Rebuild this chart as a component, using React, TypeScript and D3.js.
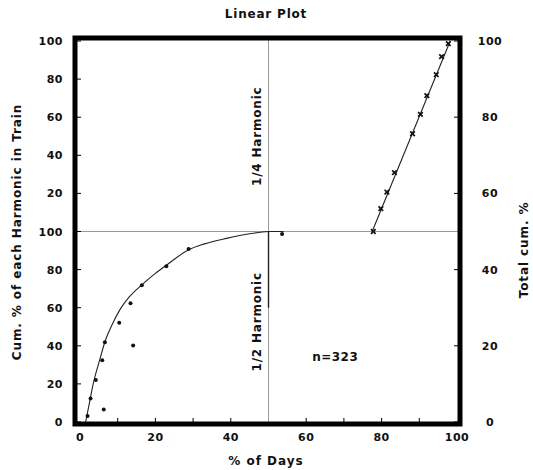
import * as d3 from 'd3';

// 1/2 harmonic: observed points (x = % of days, y = cum. % of harmonic)
const halfDays = [2.0, 2.8, 4.2, 5.9, 6.6, 6.3, 10.4, 13.4, 14.1, 16.4, 22.9, 28.8, 53.6];
const halfCum = [3.1, 12.4, 22.0, 32.4, 41.8, 6.5, 52.1, 62.3, 40.1, 71.8, 81.8, 90.8, 98.7];

// fitted curve through the 1/2 harmonic points
const halfCurveDays = [1.5, 2.5, 3.5, 5, 6.6, 8.5, 10.6, 13, 16.4, 20, 23, 28.7, 33, 38.9, 45, 50, 54];
const halfCurveCum = [0, 10, 20, 31, 42, 51, 59, 65.5, 72, 78, 82.4, 90.3, 93.5, 96.4, 98.8, 100, 100];

// 1/4 harmonic: observed points
const quarterDays = [77.8, 79.8, 81.4, 83.4, 88.2, 90.3, 92.0, 94.5, 95.9, 97.7];
const quarterCum = [0, 12.0, 20.7, 30.9, 51.3, 61.5, 71.3, 82.3, 91.8, 98.6];

// straight fit for 1/4 harmonic
const quarterLineDays = [77.5, 98.2];
const quarterLineCum = [0, 100];

const xTicks = [0, 20, 40, 60, 80, 100];
const xMinorTicks = [10, 20, 30, 40, 60, 70, 80, 90];
const leftLowerTicks = [0, 20, 40, 60, 80, 100];
const leftUpperTicks = [20, 40, 60, 80, 100];
const rightTicks = [0, 20, 40, 60, 80, 100];

const FONT = '"DejaVu Sans", sans-serif';

export default function App() {
  const width = 533;
  const height = 470;

  const x = d3.scaleLinear().domain([0, 100]).range([80, 457]);
  const yRight = d3.scaleLinear().domain([0, 100]).range([422, 41]);
  const yLower = d3.scaleLinear().domain([0, 100]).range([yRight(0), yRight(50)]);
  const yUpper = d3.scaleLinear().domain([0, 100]).range([yRight(50), yRight(100)]);

  const frame = { left: 75, right: 460, top: 38, bottom: 424 };

  const curve = d3
    .line<number>()
    .x((d) => x(halfCurveDays[d]))
    .y((d) => yLower(halfCurveCum[d]))
    .curve(d3.curveMonotoneX);

  const qLine = d3
    .line<number>()
    .x((d) => x(quarterLineDays[d]))
    .y((d) => yUpper(quarterLineCum[d]));

  const textStyle = { fontFamily: FONT, fontWeight: 700, fill: '#111' } as const;

  return (
    <svg
      width={width}
      height={height}
      style={{ position: 'absolute', left: 0, top: 0, background: '#fff' }}
    >
      {/* title */}
      <text x={266} y={18} textAnchor="middle" fontSize={12} letterSpacing={0.8} style={textStyle}>
        Linear  Plot
      </text>

      {/* reference lines */}
      <line
        x1={frame.left}
        x2={frame.right}
        y1={yRight(50)}
        y2={yRight(50)}
        stroke="#999"
        strokeWidth={1}
      />
      <line
        x1={x(50)}
        x2={x(50)}
        y1={frame.top}
        y2={frame.bottom}
        stroke="#999"
        strokeWidth={1}
      />
      <line
        x1={x(50)}
        x2={x(50)}
        y1={yLower(100)}
        y2={yLower(60)}
        stroke="#222"
        strokeWidth={1.4}
      />

      {/* 1/2 harmonic */}
      <path d={curve(d3.range(halfCurveDays.length)) || ''} fill="none" stroke="#222" strokeWidth={1.1} />
      {halfDays.map((d, i) => (
        <circle key={`h${i}`} cx={x(d)} cy={yLower(halfCum[i])} r={2} fill="#111" />
      ))}

      {/* 1/4 harmonic */}
      <path d={qLine([0, 1]) || ''} fill="none" stroke="#222" strokeWidth={1.1} />
      {quarterDays.map((d, i) => {
        const cx = x(d);
        const cy = yUpper(quarterCum[i]);
        const s = 2.3;
        return (
          <g key={`q${i}`} stroke="#111" strokeWidth={1.7}>
            <line x1={cx - s} y1={cy - s} x2={cx + s} y2={cy + s} />
            <line x1={cx - s} y1={cy + s} x2={cx + s} y2={cy - s} />
          </g>
        );
      })}

      {/* in-plot labels */}
      <text
        transform={`translate(261, ${yUpper(50)}) rotate(-90)`}
        textAnchor="middle"
        fontSize={12}
        letterSpacing={0.8}
        style={textStyle}
      >
        1/4 Harmonic
      </text>
      <text
        transform={`translate(261, ${yLower(52.6)}) rotate(-90)`}
        textAnchor="middle"
        fontSize={12}
        letterSpacing={0.8}
        style={textStyle}
      >
        1/2 Harmonic
      </text>
      <text x={x(67.7)} y={361} textAnchor="middle" fontSize={12} letterSpacing={0.5} style={textStyle}>
        n=323
      </text>

      {/* frame */}
      <rect
        x={frame.left}
        y={frame.top}
        width={frame.right - frame.left}
        height={frame.bottom - frame.top}
        fill="none"
        stroke="#000"
        strokeWidth={5}
      />

      {/* bottom axis */}
      {xMinorTicks.map((t) => (
        <line key={`xm${t}`} x1={x(t)} x2={x(t)} y1={frame.bottom} y2={frame.bottom - 6} stroke="#000" strokeWidth={1} />
      ))}
      {xTicks.map((t) => (
        <text key={`xt${t}`} x={x(t)} y={441} textAnchor="middle" fontSize={11} letterSpacing={0.5} style={textStyle}>
          {t}
        </text>
      ))}
      <text x={266} y={465} textAnchor="middle" fontSize={12} letterSpacing={1} style={textStyle}>
        % of  Days
      </text>

      {/* left axis */}
      {leftLowerTicks.map((t) => (
        <g key={`ll${t}`}>
          <line x1={frame.left} x2={frame.left + 6} y1={yLower(t)} y2={yLower(t)} stroke="#000" strokeWidth={1} />
          <text x={63} y={yLower(t) + 4} textAnchor="end" fontSize={11} letterSpacing={0.5} style={textStyle}>
            {t}
          </text>
        </g>
      ))}
      {leftUpperTicks.map((t) => (
        <g key={`lu${t}`}>
          <line x1={frame.left} x2={frame.left + 6} y1={yUpper(t)} y2={yUpper(t)} stroke="#000" strokeWidth={1} />
          <text x={63} y={yUpper(t) + 4} textAnchor="end" fontSize={11} letterSpacing={0.5} style={textStyle}>
            {t}
          </text>
        </g>
      ))}
      <text
        transform={`translate(21, 232) rotate(-90)`}
        textAnchor="middle"
        fontSize={12}
        letterSpacing={0.9}
        style={textStyle}
      >
        Cum. % of each Harmonic in Train
      </text>

      {/* right axis */}
      {rightTicks.map((t) => (
        <g key={`r${t}`}>
          <line x1={frame.right} x2={frame.right - 6} y1={yRight(t)} y2={yRight(t)} stroke="#000" strokeWidth={1} />
          <text x={490} y={yRight(t) + 4} textAnchor="middle" fontSize={11} letterSpacing={0.5} style={textStyle}>
            {t}
          </text>
        </g>
      ))}
      <text
        transform={`translate(528, 250) rotate(-90)`}
        textAnchor="middle"
        fontSize={12}
        letterSpacing={0.9}
        style={textStyle}
      >
        Total cum. %
      </text>
    </svg>
  );
}
